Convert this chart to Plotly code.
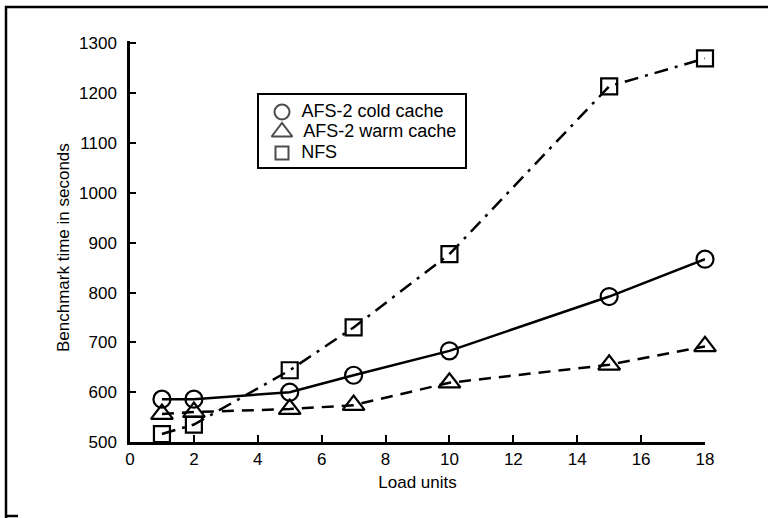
import plotly.graph_objects as go

load_units = [1, 2, 5, 7, 10, 15, 18]
afs_cold = [586, 586, 600, 634, 683, 792, 867]
afs_warm = [556, 560, 566, 574, 619, 655, 692]
nfs = [516, 535, 644, 730, 877, 1214, 1270]

series_names = ["AFS-2 cold cache", "AFS-2 warm cache", "NFS"]
x_ticks = [0, 2, 4, 6, 8, 10, 12, 14, 16, 18]
y_ticks = [500, 600, 700, 800, 900, 1000, 1100, 1200, 1300]
x_title = "Load units"
y_title = "Benchmark time in seconds"

FONT = "Liberation Sans, Arial, Helvetica, sans-serif"
W, H = 768, 518
L, R, T, B = 130, 63, 41, 76

fig = go.Figure()

symbols = ["circle-open", "triangle-up-open", "square-open"]
sizes = [17, 19, 16]
dashes = ["solid", "12px,8px", "14px,7px,3px,7px"]

for name, ys, sym, size, dash in zip(series_names, [afs_cold, afs_warm, nfs], symbols, sizes, dashes):
    fig.add_trace(go.Scatter(
        x=load_units, y=ys, mode="lines+markers", name=name, showlegend=False,
        line=dict(color="black", width=2.5, dash=dash),
        marker=dict(symbol=sym, size=size, color="black", line=dict(width=2.2, color="black")),
        cliponaxis=False,
    ))

# custom legend on an overlay axis measured in pixels
leg_x = [282, 282, 282]
leg_y = [112, 132, 153]
fig.add_trace(go.Scatter(
    x=leg_x, y=leg_y, xaxis="x2", yaxis="y2", mode="markers+text",
    text=["  " + n for n in series_names], textposition="middle right",
    textfont=dict(family=FONT, size=18, color="black"),
    marker=dict(symbol=symbols, size=[15, 18, 13], color="black", line=dict(width=2, color="black")),
    showlegend=False, cliponaxis=False, hoverinfo="skip",
))

def px_x(p):
    return (p - L) / (W - L - R)

def px_y(p):
    return (H - B - p) / (H - T - B)

frame = [
    (5, 7, 768, 7),
    (6, 6, 6, 518),
    (6, 516, 18, 516),
]
shapes = []
for x0, y0, x1, y1 in frame:
    shapes.append(dict(type="line", xref="paper", yref="paper",
                       x0=px_x(x0), y0=px_y(y0), x1=px_x(x1), y1=px_y(y1),
                       line=dict(color="black", width=2.5)))
shapes.append(dict(type="rect", xref="paper", yref="paper",
                   x0=px_x(258), y0=px_y(94), x1=px_x(466), y1=px_y(168),
                   line=dict(color="black", width=2), fillcolor="rgba(0,0,0,0)", layer="below"))

fig.update_layout(
    width=W, height=H,
    margin=dict(l=L, r=R, t=T, b=B),
    paper_bgcolor="white", plot_bgcolor="white",
    font=dict(family=FONT, size=17, color="black"),
    shapes=shapes,
    showlegend=False,
    annotations=[
        dict(text=y_title, xref="paper", yref="paper", x=px_x(64), y=px_y(248),
             textangle=-90, showarrow=False, font=dict(size=17), xanchor="center", yanchor="middle"),
    ],
    xaxis=dict(
        range=[0, 18], tickvals=x_ticks, ticktext=[str(v) for v in x_ticks],
        showgrid=False, zeroline=False, showline=True, linecolor="black", linewidth=2.5,
        ticks="inside", ticklen=7, tickwidth=2, tickcolor="black",
        title=dict(text=x_title, font=dict(size=17), standoff=8),
        ticklabelstandoff=0,
    ),
    yaxis=dict(
        range=[500, 1305], tickvals=y_ticks, ticktext=[str(v) for v in y_ticks],
        showgrid=False, zeroline=False, showline=True, linecolor="black", linewidth=2.5,
        ticks="inside", ticklen=6, tickwidth=2, tickcolor="black",
        ticklabelstandoff=7,
    ),
    xaxis2=dict(overlaying="x", range=[L, W - R], visible=False, fixedrange=True),
    yaxis2=dict(overlaying="y", range=[H - B, T], visible=False, fixedrange=True),
)

fig.write_html("out.html", config={"displayModeBar": False},
               post_script="document.body.style.margin='0';")
